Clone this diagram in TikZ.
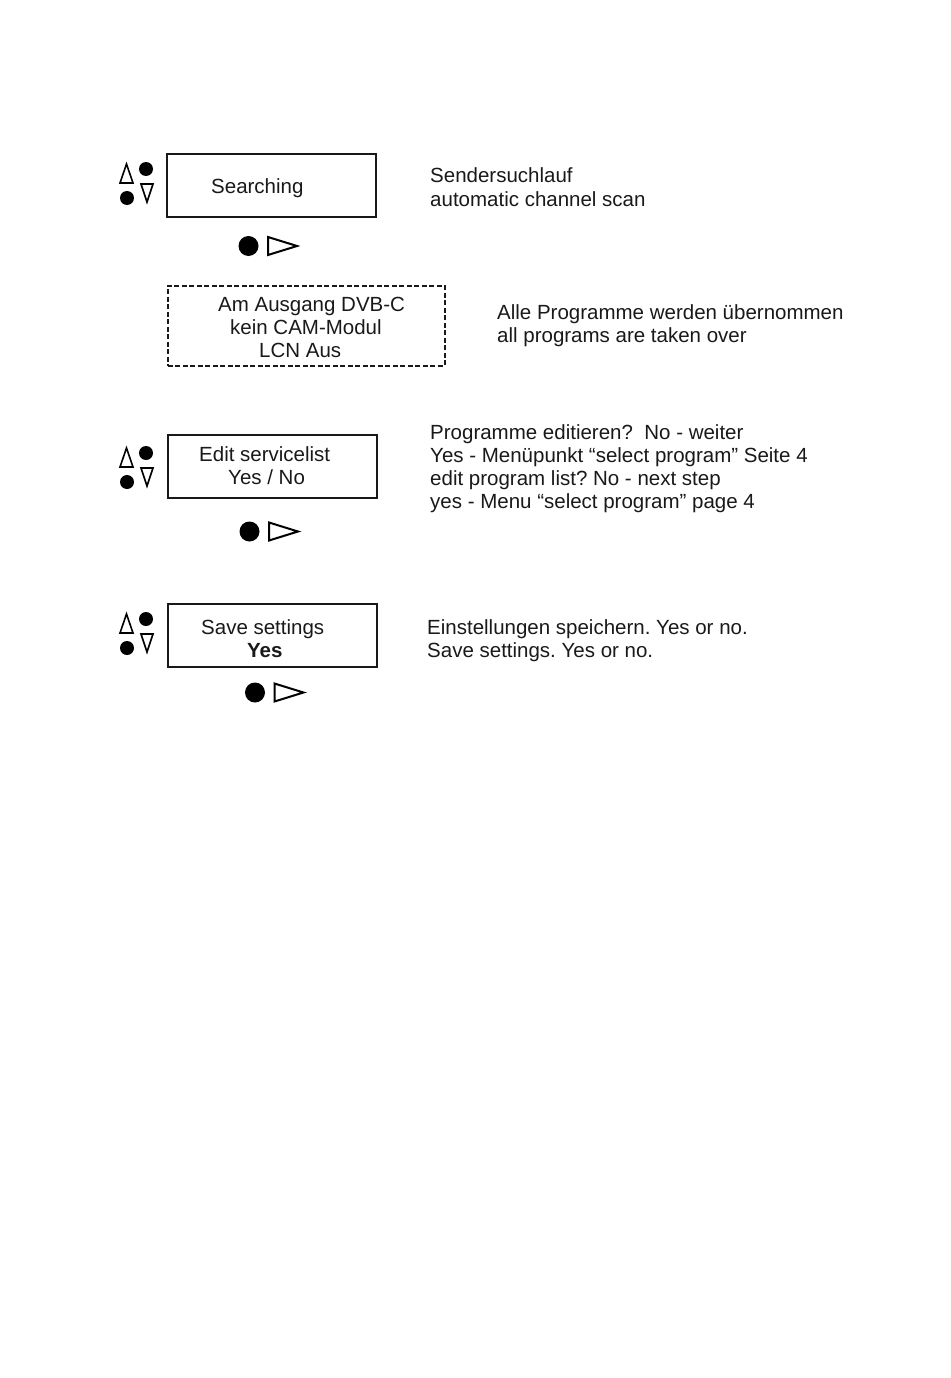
\documentclass[tikz,border=0pt]{standalone}
\usepackage{fontspec}
\setmainfont{Liberation Sans}
\frenchspacing
\begin{document}
\begin{tikzpicture}[x=1pt,y=-1pt,
  txt/.style={anchor=base west,inner sep=0pt,font=\fontsize{20.5}{23}\selectfont\frenchspacing,text=black!90},
  lcd/.style={draw=black!90,line width=2pt,minimum width=209pt,minimum height=63pt,inner sep=0pt,outer sep=0pt,anchor=north west},
  lcddash/.style={draw=black!90,line width=2pt,dash pattern=on 5pt off 2.5pt,minimum width=277pt,minimum height=80pt,inner sep=0pt,outer sep=0pt,anchor=north west},
  updown/.pic={
    \draw[line width=1.6pt,line join=miter] (0,20) -- (13,20) -- (6.5,1) -- cycle;
    \fill (26,6) circle[radius=7];
    \fill (7,35) circle[radius=7];
    \draw[line width=1.6pt,line join=miter] (21,21) -- (33,21) -- (27,39) -- cycle;
  },
  okright/.pic={
    \fill (0,0) circle[radius=10];
    \draw[line width=2pt,line join=miter] (19.5,-9) -- (19.5,9) -- (48.5,0) -- cycle;
  }]
\useasboundingbox (0,0) rectangle (950,1378);
% block 1
\node[lcd] (box1) at (167,154) {};
\pic at (120,163) {updown};
\pic at (248.5,246) {okright};
\node[txt] (t1) at (211,193) {Searching};
\node[txt] (r1a) at (430,182) {Sendersuchlauf};
\node[txt] (r1b) at (430,206) {automatic channel scan};
% dashed info box
\node[lcddash] (box2) at (167.5,285.5) {};
\node[txt] (d1) at (218,311) {Am Ausgang DVB-C};
\node[txt] (d2) at (230,334) {kein CAM-Modul};
\node[txt] (d3) at (259,357) {LCN Aus};
\node[txt] (r2a) at (497,319) {Alle Programme werden übernommen};
\node[txt] (r2b) at (497,342) {all programs are taken over};
% block 2
\node[lcd] (box3) at (168,435) {};
\pic at (120,447) {updown};
\pic at (249.5,531.5) {okright};
\node[txt] (e1) at (199,461) {Edit servicelist};
\node[txt] (e2) at (228,484) {Yes / No};
\node[txt] (r3a) at (430,439) {Programme editieren?\ \ No - weiter};
\node[txt] (r3b) at (430,462) {Yes - Menüpunkt “select program” Seite 4};
\node[txt] (r3c) at (430,485) {edit program list? No - next step};
\node[txt] (r3d) at (430,508) {yes - Menu “select program” page 4};
% block 3
\node[lcd] (box4) at (168,604) {};
\pic at (120,613) {updown};
\pic at (255,692.5) {okright};
\node[txt] (s1) at (201,634) {Save settings};
\node[txt,font=\fontsize{20.5}{23}\selectfont\bfseries] (s2) at (247,657) {Yes};
\node[txt] (r4a) at (427,634) {Einstellungen speichern. Yes or no.};
\node[txt] (r4b) at (427,657) {Save settings. Yes or no.};
\end{tikzpicture}
\end{document}
